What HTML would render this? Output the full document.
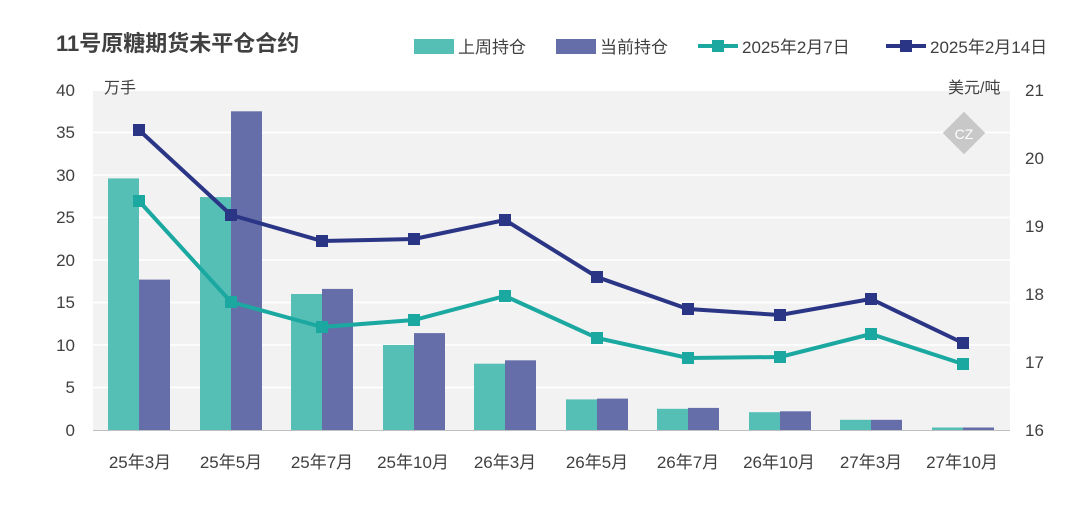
<!DOCTYPE html>
<html><head><meta charset="utf-8"><style>
body{margin:0;background:#fff;width:1080px;height:506px;overflow:hidden}
text{font-family:"Liberation Sans","Noto Sans CJK SC",sans-serif;fill:#404040}
</style></head><body>
<svg width="1080" height="506" xmlns="http://www.w3.org/2000/svg">
<text x="56" y="51" font-size="22" font-weight="bold" fill="#404040">11号原糖期货未平仓合约</text>
<rect x="414" y="39" width="40" height="15" fill="#55bfb5"/><text x="458" y="53" font-size="17">上周持仓</text>
<rect x="556" y="39" width="40" height="15" fill="#666ea9"/><text x="600" y="53" font-size="17">当前持仓</text>
<line x1="698" y1="46" x2="738" y2="46" stroke="#1aa8a0" stroke-width="4"/><rect x="712" y="40" width="12" height="12" fill="#1aa8a0"/><text x="742" y="53" font-size="17">2025年2月7日</text>
<line x1="886" y1="46" x2="926" y2="46" stroke="#2b3585" stroke-width="4"/><rect x="900" y="40" width="12" height="12" fill="#2b3585"/><text x="930" y="53" font-size="17">2025年2月14日</text>
<rect x="93" y="91" width="917" height="339" fill="#f2f2f2"/>
<g stroke="#fff" stroke-width="1.5">
<line x1="93" x2="1010" y1="132.5" y2="132.5"/><line x1="93" x2="1010" y1="175" y2="175"/><line x1="93" x2="1010" y1="217.5" y2="217.5"/><line x1="93" x2="1010" y1="260" y2="260"/><line x1="93" x2="1010" y1="302.5" y2="302.5"/><line x1="93" x2="1010" y1="345" y2="345"/><line x1="93" x2="1010" y1="387.5" y2="387.5"/>
</g>
<text x="104" y="93" font-size="16">万手</text>
<text x="948" y="93" font-size="16">美元/吨</text>
<g font-size="17" text-anchor="end">
<text x="75" y="96">40</text><text x="75" y="138">35</text><text x="75" y="181">30</text><text x="75" y="223">25</text><text x="75" y="266">20</text><text x="75" y="308">15</text><text x="75" y="351">10</text><text x="75" y="393">5</text><text x="75" y="436">0</text>
</g>
<g font-size="17">
<text x="1025" y="96">21</text><text x="1025" y="164">20</text><text x="1025" y="232">19</text><text x="1025" y="300">18</text><text x="1025" y="368">17</text><text x="1025" y="436">16</text>
</g>
<g transform="translate(964,133) rotate(45)"><rect x="-15" y="-15" width="30" height="30" fill="#c8c8c8"/></g>
<text x="964" y="139" font-size="14" fill="#fff" text-anchor="middle" style="fill:#fff">CZ</text>
<g fill="#55bfb5">
<rect x="108" y="178.4" width="31" height="251.6"/><rect x="200" y="197.1" width="31" height="232.9"/><rect x="291" y="294" width="31" height="136"/><rect x="383" y="345" width="31" height="85"/><rect x="474" y="363.7" width="31" height="66.3"/><rect x="566" y="399.4" width="31" height="30.6"/><rect x="657" y="408.8" width="31" height="21.2"/><rect x="749" y="412.2" width="31" height="17.8"/><rect x="840" y="419.8" width="31" height="10.2"/><rect x="932" y="427.5" width="31" height="2.5"/>
</g>
<g fill="#666ea9">
<rect x="139" y="279.6" width="31" height="150.4"/><rect x="231" y="111.3" width="31" height="318.7"/><rect x="322" y="288.9" width="31" height="141.1"/><rect x="414" y="333.1" width="31" height="96.9"/><rect x="505" y="360.3" width="31" height="69.7"/><rect x="597" y="398.6" width="31" height="31.4"/><rect x="688" y="407.9" width="31" height="22.1"/><rect x="780" y="411.3" width="31" height="18.7"/><rect x="871" y="419.8" width="31" height="10.2"/><rect x="963" y="427.5" width="31" height="2.5"/>
</g>
<line x1="93" x2="1010" y1="430.5" y2="430.5" stroke="#bfbfbf"/>
<polyline fill="none" stroke="#1aa8a0" stroke-width="4" points="139,201 231,302 322,327 414,320 505,296 597,338 688,358 780,357 871,334 963,364"/>
<g fill="#1aa8a0"><rect x="133" y="195" width="12" height="12"/><rect x="225" y="296" width="12" height="12"/><rect x="316" y="321" width="12" height="12"/><rect x="408" y="314" width="12" height="12"/><rect x="499" y="290" width="12" height="12"/><rect x="591" y="332" width="12" height="12"/><rect x="682" y="352" width="12" height="12"/><rect x="774" y="351" width="12" height="12"/><rect x="865" y="328" width="12" height="12"/><rect x="957" y="358" width="12" height="12"/></g>
<polyline fill="none" stroke="#2b3585" stroke-width="4" points="139,130 231,215 322,241 414,239 505,220 597,277 688,309 780,315 871,299 963,343"/>
<g fill="#2b3585"><rect x="133" y="124" width="12" height="12"/><rect x="225" y="209" width="12" height="12"/><rect x="316" y="235" width="12" height="12"/><rect x="408" y="233" width="12" height="12"/><rect x="499" y="214" width="12" height="12"/><rect x="591" y="271" width="12" height="12"/><rect x="682" y="303" width="12" height="12"/><rect x="774" y="309" width="12" height="12"/><rect x="865" y="293" width="12" height="12"/><rect x="957" y="337" width="12" height="12"/></g>
<g font-size="17" text-anchor="middle">
<text x="140" y="468">25年3月</text><text x="231" y="468">25年5月</text><text x="322" y="468">25年7月</text><text x="413" y="468">25年10月</text><text x="505" y="468">26年3月</text><text x="597" y="468">26年5月</text><text x="688" y="468">26年7月</text><text x="779" y="468">26年10月</text><text x="871" y="468">27年3月</text><text x="962" y="468">27年10月</text>
</g>
</svg>
</body></html>
